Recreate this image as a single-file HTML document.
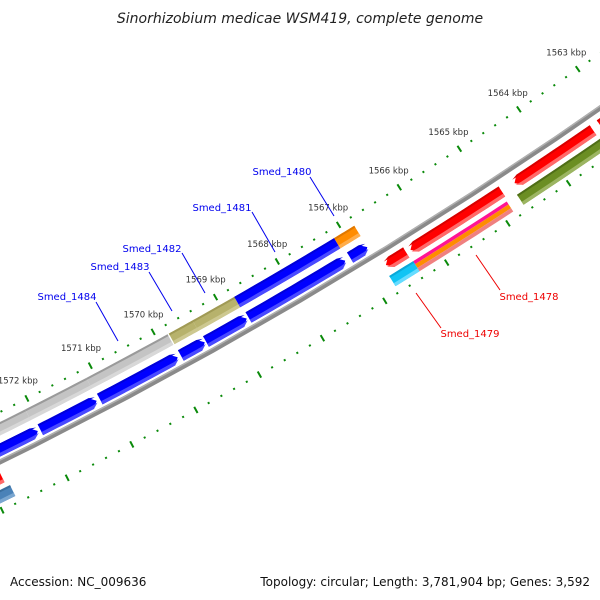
<!DOCTYPE html>
<html><head><meta charset="utf-8"><style>
html,body{margin:0;padding:0;background:#fff;width:600px;height:600px;overflow:hidden}
svg{display:block}
text{font-family:"DejaVu Sans","Liberation Sans",sans-serif}
</style></head><body>
<svg id="map" width="600" height="600" viewBox="0 0 600 600" xmlns="http://www.w3.org/2000/svg">
<text x="300" y="23" text-anchor="middle" font-size="14" font-style="italic" fill="#222">Sinorhizobium medicae WSM419, complete genome</text>
<g id="ticks"></g>
<g id="genes"></g>
<g id="labels"></g>
<text x="10" y="586" font-size="12" fill="#111">Accession: NC_009636</text>
<text x="590" y="586" text-anchor="end" font-size="12" fill="#111">Topology: circular; Length: 3,781,904 bp; Genes: 3,592</text>
</svg>
<script>
// ---- data ----
const tickStartKbp = 1561;
const tickEndKbp = 1575;
const geneNames  = ["g1485a","g1485b","g1484","g1483","g1482","Smed_1481","Smed_1480","b1","b2","b3","b4","b5","b6","b7","r0","Smed_1479x","smallRed","bigRed","rightRed","tinyRed","Smed_1479","Smed_1478a","Smed_1478b","Smed_1478c","olive","steel"];
const geneStart  = [1572.09,1571.13,1569.84,1569.44,1568.77,1567.15,1566.82,1572.07,1571.15,1569.87,1569.44,1568.77,1567.18,1566.82,1572.80,0,1566.40,1564.83,1563.31,1562.50,1566.38,1564.85,1564.85,1564.85,1563.00,1572.75];
const geneEnd    = [1573.60,1572.09,1571.13,1569.82,1569.44,1568.77,1567.15,1573.60,1572.03,1571.10,1569.82,1569.42,1568.74,1567.10,1574.00,0,1566.73,1566.33,1564.62,1563.19,1566.77,1566.38,1566.38,1566.38,1564.68,1574.00];
const geneTrack  = ["A","A","A","A","A","A","A","B","B","B","B","B","B","B","C","X","C","C","C","C","D","D1","D2","D3","D","D"];
const geneDir    = [0,0,0,0,0,0,0,-1,-1,-1,-1,-1,-1,-1,1,0,1,1,1,0,0,0,0,0,0,0];
const geneColor  = ["#c4c4c4","#c4c4c4","#c4c4c4","#b7b26c","#b7b26c","#0000ff","#ff8c00","#0000ff","#0000ff","#0000ff","#0000ff","#0000ff","#0000ff","#0000ff","#ff0000","#000","#ff0000","#ff0000","#ff0000","#ff0000","#11c4f4","#ff1493","#ff8c00","#f08080","#6b8e23","#4a82b8"];
const geneLight  = ["#d8d8d8","#d8d8d8","#d8d8d8","#cdc890","#cdc890","#4a4aff","#ffad4a","#4a4aff","#4a4aff","#4a4aff","#4a4aff","#4a4aff","#4a4aff","#4a4aff","#ff6a6a","#000","#ff6a6a","#ff6a6a","#ff6a6a","#ff6a6a","#66dcff","#ff1493","#ff8c00","#f4a0a0","#9cb562","#7aa6d0"];
const geneDark   = ["#9a9a9a","#9a9a9a","#9a9a9a","#a09a55","#a09a55","#0000d8","#e07800","#0000d8","#0000d8","#0000d8","#0000d8","#0000d8","#0000d8","#0000d8","#d80000","#000","#d80000","#d80000","#d80000","#d80000","#0aa8d8","#ff1493","#ff8c00","#f08080","#4f6e18","#3a6e9e"];

// ---- geometry ----
const CX=-2077, CY=-3745;
const tracks={A:[4656,4668],B:[4675,4687],C:[4700,4712],D:[4717,4729],D1:[4717,4720.5],D2:[4720.5,4725],D3:[4725,4729]};
const R_TICK_OUT=4647, R_TICK_IN=4736, R_BACK=4692, R_LABEL=4627;
function ang(k){return (56.04+(k-1564)*0.88)*Math.PI/180;}
function pt(k,r){const a=ang(k);return [CX+r*Math.cos(a),CY+r*Math.sin(a)];}
const NS="http://www.w3.org/2000/svg";
function arcPts(k1,k2,r,n){const p=[];for(let i=0;i<=n;i++){p.push(pt(k1+(k2-k1)*i/n,r));}return p;}
function shape(ka,kb,r1,r2,dir,rm){
  const h=0.085; let a=ka,b=kb; let pts=[];
  if(dir===1){b=kb-h;}
  if(dir===-1){a=ka+h;}
  pts=pts.concat(arcPts(a,b,r1,10));
  if(dir===1){pts.push(pt(kb,rm));}
  pts=pts.concat(arcPts(b,a,r2,10));
  if(dir===-1){pts.push(pt(ka,rm));}
  return pts.map(p=>p[0].toFixed(2)+","+p[1].toFixed(2)).join(" ");
}
function poly(parent,pts,fill,name){
  const e=document.createElementNS(NS,"polygon");
  e.setAttribute("points",pts);e.setAttribute("fill",fill);
  
  
  parent.appendChild(e);return e;
}

// ticks
const tg=document.getElementById("ticks");
for(let i=0;i<=(tickEndKbp-tickStartKbp)*5;i++){
  const k=tickStartKbp+i*0.2; const major=(i%5===0);
  [R_TICK_OUT,R_TICK_IN].forEach(function(r){
    const l=major?3.5:1;
    const p1=pt(k,r-l),p2=pt(k,r+l);
    const ln=document.createElementNS(NS,"line");
    ln.setAttribute("x1",p1[0]);ln.setAttribute("y1",p1[1]);ln.setAttribute("x2",p2[0]);ln.setAttribute("y2",p2[1]);
    ln.setAttribute("stroke","#0a8a0a");ln.setAttribute("stroke-width","2");
    
    
    tg.appendChild(ln);
  });
  if(major){
    const p=pt(k,R_LABEL);
    const t=document.createElementNS(NS,"text");
    t.setAttribute("x",p[0]);t.setAttribute("y",p[1]+3);t.setAttribute("text-anchor","middle");
    t.setAttribute("font-size","8.5");t.setAttribute("fill","#333");
    t.textContent=Math.round(k)+" kbp";
    
    
    tg.appendChild(t);
  }
}
// backbone
const gg=document.getElementById("genes");
poly(gg,shape(1561,1575,R_BACK-2.5,R_BACK+2.5,0),"#8a8a8a","backbone");
poly(gg,shape(1561,1575,R_BACK-2.5,R_BACK-1,0),"#b0b0b0","backbone-highlight");
// genes
for(let i=0;i<geneNames.length;i++){
  if(geneTrack[i]==="X")continue;
  const tr=tracks[geneTrack[i]]; const r1=tr[0],r2=tr[1],rm=(r1+r2)/2;
  poly(gg,shape(geneStart[i],geneEnd[i],r1,r2,geneDir[i],rm),geneColor[i],"gene-"+geneNames[i]);
  if(geneTrack[i].length===1){
    poly(gg,shape(geneStart[i],geneEnd[i],r1,r1+2,geneDir[i]===0?0:geneDir[i],r1+2),geneDark[i],"gene-top-shade");
    poly(gg,shape(geneStart[i],geneEnd[i],r2-3.5,r2,geneDir[i],rm+2),geneLight[i],"gene-bottom-shade");
  }
}
// labels with leaders
const labels=[
 ["Smed_1480",282,175,"#0000ee",310,177,334,216],
 ["Smed_1481",222,211,"#0000ee",252,212,275,252],
 ["Smed_1482",152,252,"#0000ee",182,253,205,293],
 ["Smed_1483",120,270,"#0000ee",149,272,172,311],
 ["Smed_1484",67,300,"#0000ee",96,302,118,341],
 ["Smed_1478",529,300,"#ee0000",476,255,500,290],
 ["Smed_1479",470,337,"#ee0000",416,293,441,328]
];
const lg=document.getElementById("labels");
labels.forEach(function(L){
  const ln=document.createElementNS(NS,"line");
  ln.setAttribute("x1",L[4]);ln.setAttribute("y1",L[5]);ln.setAttribute("x2",L[6]);ln.setAttribute("y2",L[7]);
  ln.setAttribute("stroke",L[3]);ln.setAttribute("stroke-width","1");
  
  
  lg.appendChild(ln);
  const t=document.createElementNS(NS,"text");
  t.setAttribute("x",L[1]);t.setAttribute("y",L[2]);t.setAttribute("text-anchor","middle");
  t.setAttribute("font-size","10");t.setAttribute("fill",L[3]);t.textContent=L[0];
  
  
  lg.appendChild(t);
});
</script>
</body></html>
